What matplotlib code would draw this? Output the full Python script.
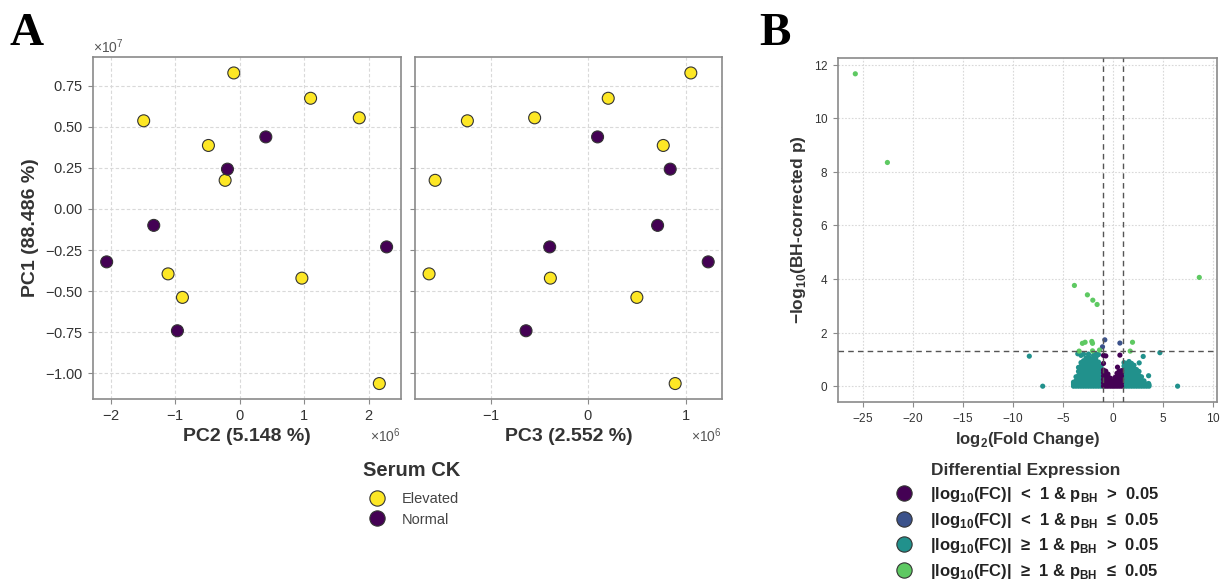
import numpy as np
import matplotlib
matplotlib.use("Agg")
import matplotlib.pyplot as plt
from matplotlib.lines import Line2D

plt.rcParams['font.family'] = ['Liberation Sans', 'DejaVu Sans']
plt.rcParams['mathtext.fontset'] = 'custom'
plt.rcParams['mathtext.rm'] = 'Liberation Sans'
plt.rcParams['mathtext.bf'] = 'Liberation Sans:bold'
plt.rcParams['axes.formatter.use_mathtext'] = True

# ---- PCA data (A) ----
pc1 = [0.827, 0.673, 0.554, 0.536, 0.386, 0.174, -0.395, -0.538, -0.421, -1.062,
       0.438, 0.242, -0.100, -0.322, -0.741, -0.231]          # x1e7
pc2 = [-0.091, 1.100, 1.855, -1.488, -0.484, -0.225, -1.110, -0.887, 0.965, 2.166,
       0.406, -0.189, -1.332, -2.062, -0.965, 2.279]          # x1e6
pc3 = [1.049, 0.204, -0.549, -1.237, 0.767, -1.567, -1.629, 0.497, -0.388, 0.889,
       0.095, 0.838, 0.709, 1.227, -0.637, -0.395]            # x1e6
serum_ck = ['Elevated'] * 10 + ['Normal'] * 6
ck_colors = {'Elevated': '#fde725', 'Normal': '#440154'}

# ---- volcano data (B): (log2 FC, -log10 p_BH) ----
green_pts = [(-25.77, 11.66), (-22.56, 8.35), (8.63, 4.06), (-3.86, 3.76),
             (-2.56, 3.41), (-2.02, 3.21), (-1.59, 3.05), (-3.06, 1.60),
             (-2.79, 1.64), (-2.12, 1.67), (-2.05, 1.60), (1.95, 1.64),
             (-3.39, 1.31), (-2.05, 1.32), (-1.35, 1.35), (1.72, 1.31)]
blue_pts = [(-0.82, 1.73), (-1.05, 1.47), (0.69, 1.61)]
teal_pts = [
    (-8.37, 1.12), (-7.03, 0.0), (6.46, 0.0), (4.69, 1.25), (3.02, 1.11),
    (2.62, 0.87), (3.56, 0.39), (3.56, 0.10), (-3.52, 1.21),
    (-3.95, 0.0), (-3.95, 0.08), (-3.95, 0.15),
    (-3.7, 0.0), (-3.7, 0.1), (-3.7, 0.2), (-3.7, 0.35),
    (-3.45, 0.0), (-3.45, 0.1), (-3.45, 0.22), (-3.45, 0.4), (-3.45, 0.55), (-3.45, 0.7),
    (-3.2, 0.0), (-3.2, 0.12), (-3.2, 0.25), (-3.2, 0.38), (-3.2, 0.5), (-3.2, 0.62),
    (-3.2, 0.75), (-3.2, 0.88), (-3.2, 1.15),
    (-2.95, 0.0), (-2.95, 0.1), (-2.95, 0.22), (-2.95, 0.35), (-2.95, 0.48), (-2.95, 0.6),
    (-2.95, 0.72), (-2.95, 0.85), (-2.95, 0.95), (-2.95, 1.2),
    (-2.7, 0.0), (-2.7, 0.12), (-2.7, 0.24), (-2.7, 0.36), (-2.7, 0.5), (-2.7, 0.62),
    (-2.7, 0.75), (-2.7, 0.9), (-2.7, 1.05),
    (-2.45, 0.0), (-2.45, 0.1), (-2.45, 0.22), (-2.45, 0.34), (-2.45, 0.46), (-2.45, 0.58),
    (-2.45, 0.7), (-2.45, 0.82), (-2.45, 0.96), (-2.45, 1.1), (-2.45, 1.2),
    (-2.2, 0.0), (-2.2, 0.12), (-2.2, 0.25), (-2.2, 0.38), (-2.2, 0.5), (-2.2, 0.64),
    (-2.2, 0.78), (-2.2, 0.9), (-2.2, 1.02),
    (-1.95, 0.0), (-1.95, 0.1), (-1.95, 0.22), (-1.95, 0.35), (-1.95, 0.47), (-1.95, 0.6),
    (-1.95, 0.73), (-1.95, 0.86), (-1.95, 1.0), (-1.95, 1.15),
    (-1.7, 0.0), (-1.7, 0.12), (-1.7, 0.25), (-1.7, 0.38), (-1.7, 0.52), (-1.7, 0.66),
    (-1.7, 0.8), (-1.7, 0.95), (-1.7, 1.08), (-1.7, 1.2),
    (-1.45, 0.0), (-1.45, 0.1), (-1.45, 0.24), (-1.45, 0.37), (-1.45, 0.5), (-1.45, 0.63),
    (-1.45, 0.77), (-1.45, 0.9), (-1.45, 1.18),
    (-1.2, 0.0), (-1.2, 0.12), (-1.2, 0.25), (-1.2, 0.38), (-1.2, 0.5), (-1.2, 0.62),
    (-1.2, 0.75), (-1.05, 0.05), (-1.05, 0.3), (-1.05, 0.55),
    (1.1, 0.0), (1.1, 0.12), (1.1, 0.25), (1.1, 0.38), (1.1, 0.5), (1.1, 0.62), (1.1, 0.75),
    (1.1, 0.88),
    (1.35, 0.0), (1.35, 0.1), (1.35, 0.22), (1.35, 0.35), (1.35, 0.48), (1.35, 0.6),
    (1.35, 0.72), (1.35, 0.85),
    (1.6, 0.0), (1.6, 0.12), (1.6, 0.25), (1.6, 0.38), (1.6, 0.5), (1.6, 0.63), (1.6, 0.78),
    (1.6, 0.92),
    (1.85, 0.0), (1.85, 0.1), (1.85, 0.22), (1.85, 0.35), (1.85, 0.48), (1.85, 0.6),
    (1.85, 0.72), (1.85, 0.85),
    (2.1, 0.0), (2.1, 0.12), (2.1, 0.25), (2.1, 0.38), (2.1, 0.5), (2.1, 0.65), (2.1, 0.78),
    (2.35, 0.0), (2.35, 0.1), (2.35, 0.22), (2.35, 0.35), (2.35, 0.5), (2.35, 0.62),
    (2.6, 0.0), (2.6, 0.12), (2.6, 0.25), (2.6, 0.4), (2.6, 0.55),
    (2.85, 0.0), (2.85, 0.1), (2.85, 0.22), (2.85, 0.35),
    (3.1, 0.0), (3.1, 0.12), (3.1, 0.2),
    (3.35, 0.0), (3.35, 0.08), (3.6, 0.0), (3.6, 0.05)]
purple_pts = [
    (-0.95, 1.15), (-0.72, 1.13), (0.69, 1.16), (0.45, 0.71), (-0.95, 0.85),
    (-0.95, 0.0), (-0.95, 0.12), (-0.95, 0.25), (-0.95, 0.38), (-0.95, 0.5), (-0.95, 0.6),
    (-0.72, 0.0), (-0.72, 0.1), (-0.72, 0.22), (-0.72, 0.35), (-0.72, 0.48), (-0.72, 0.56),
    (-0.5, 0.0), (-0.5, 0.12), (-0.5, 0.24), (-0.5, 0.36), (-0.5, 0.45),
    (-0.27, 0.0), (-0.27, 0.1), (-0.27, 0.2), (-0.27, 0.3),
    (-0.05, 0.0), (-0.05, 0.08), (-0.05, 0.18),
    (0.18, 0.0), (0.18, 0.1), (0.18, 0.22), (0.18, 0.32),
    (0.4, 0.0), (0.4, 0.12), (0.4, 0.25), (0.4, 0.38), (0.4, 0.48),
    (0.62, 0.0), (0.62, 0.1), (0.62, 0.22), (0.62, 0.35), (0.62, 0.48), (0.62, 0.56),
    (0.85, 0.0), (0.85, 0.12), (0.85, 0.25), (0.85, 0.38), (0.85, 0.5), (0.85, 0.58)]

de_labels = [r"|log$_{\mathbf{10}}$(FC)|  <  1 & p$_{\mathbf{BH}}$  >  0.05",
             r"|log$_{\mathbf{10}}$(FC)|  <  1 & p$_{\mathbf{BH}}$  ≤  0.05",
             r"|log$_{\mathbf{10}}$(FC)|  ≥  1 & p$_{\mathbf{BH}}$  >  0.05",
             r"|log$_{\mathbf{10}}$(FC)|  ≥  1 & p$_{\mathbf{BH}}$  ≤  0.05"]
de_colors = ['#440154', '#3b528b', '#21918c', '#5ec962']

fig = plt.figure(figsize=(12.22, 5.83), dpi=100)
W, H = 1222, 583


def px_axes(x0, y0, x1, y1, **kw):
    return fig.add_axes([x0 / W, 1 - y1 / H, (x1 - x0) / W, (y1 - y0) / H], **kw)


def style(ax, grid_ls):
    for s in ax.spines.values():
        s.set_color('#8a8a8a')
        s.set_linewidth(1.2)
    ax.grid(True, color='#d9d9d9', linestyle=grid_ls, linewidth=0.8)
    ax.set_axisbelow(True)
    ax.tick_params(colors='#8a8a8a', labelcolor='#333333', length=3.5, width=0.8)


ax1 = px_axes(93, 57, 401, 399)
ax2 = px_axes(415, 57, 722, 399, sharey=ax1)

pc1_v = np.array(pc1) * 1e7
cols = [ck_colors[c] for c in serum_ck]
ax1.scatter(np.array(pc2) * 1e6, pc1_v, s=74, c=cols, edgecolors='#333333', linewidths=0.8, zorder=3)
ax2.scatter(np.array(pc3) * 1e6, pc1_v, s=74, c=cols, edgecolors='#333333', linewidths=0.8, zorder=3)

ax1.set_xlim(-2.274e6, 2.502e6)
ax2.set_xlim(-1.773e6, 1.368e6)
ax1.set_ylim(-1.156e7, 0.924e7)
ax1.set_yticks(np.array([-1.0, -0.75, -0.5, -0.25, 0.0, 0.25, 0.5, 0.75]) * 1e7)
ax1.set_xticks(np.array([-2, -1, 0, 1, 2]) * 1e6)
ax2.set_xticks(np.array([-1, 0, 1]) * 1e6)
for ax in (ax1, ax2):
    style(ax, (0, (3, 2)))
    ax.tick_params(labelsize=10.5)
    ax.xaxis.get_offset_text().set_fontsize(10)
    ax.xaxis.get_offset_text().set_color('#555555')
ax1.yaxis.get_offset_text().set_fontsize(10)
ax1.yaxis.get_offset_text().set_color('#555555')
ax2.tick_params(labelleft=False)
ax2.yaxis.get_offset_text().set_visible(False)
ax1.set_ylabel('PC1 (88.486 %)', fontsize=14, fontweight='bold', color='#333333')
ax1.set_xlabel('PC2 (5.148 %)', fontsize=14, fontweight='bold', color='#333333')
ax2.set_xlabel('PC3 (2.552 %)', fontsize=14, fontweight='bold', color='#333333')

# legend A: title drawn as separate text for spacing control
fig.text(412 / W, 1 - 470 / H, 'Serum CK', fontsize=14.5, fontweight='bold',
         color='#333333', ha='center', va='center')
ck_handles = [Line2D([], [], marker='o', ls='', markersize=11, markerfacecolor=ck_colors[k],
                     markeredgecolor='#333333', markeredgewidth=0.8) for k in ('Elevated', 'Normal')]
leg1 = fig.legend(ck_handles, ['Elevated', 'Normal'], loc='upper left',
                  bbox_to_anchor=(362 / W, 1 - 492 / H), frameon=False, fontsize=10.5,
                  labelspacing=0.45, handletextpad=0.75, borderpad=0.0, borderaxespad=0.0)
for t in leg1.get_texts():
    t.set_color('#444444')

# ---- volcano ----
ax3 = px_axes(838, 58, 1217, 402)
for pts, col in ((teal_pts, de_colors[2]), (purple_pts, de_colors[0]),
                 (blue_pts, de_colors[1]), (green_pts, de_colors[3])):
    xs, ys = zip(*pts)
    ax3.scatter(xs, ys, s=14, c=col, edgecolors='none', zorder=3)
ax3.axvline(-1, color='#555555', ls=(0, (4, 3)), lw=1.0, zorder=4)
ax3.axvline(1, color='#555555', ls=(0, (4, 3)), lw=1.0, zorder=4)
ax3.axhline(-np.log10(0.05), color='#555555', ls=(0, (4, 3)), lw=1.0, zorder=4)
ax3.set_xlim(-27.5, 10.4)
ax3.set_ylim(-0.59, 12.25)
ax3.set_xticks([-25, -20, -15, -10, -5, 0, 5, 10])
ax3.set_yticks([0, 2, 4, 6, 8, 10, 12])
style(ax3, (0, (1.5, 1.5)))
ax3.tick_params(labelsize=8.5)
ax3.set_xlabel(r'log$_{\mathbf{2}}$(Fold Change)', fontsize=12, fontweight='bold', color='#333333')
ax3.set_ylabel(r'−log$_{\mathbf{10}}$(BH-corrected p)', fontsize=12.5, fontweight='bold', color='#333333')

fig.text(1026 / W, 1 - 470 / H, 'Differential Expression', fontsize=12.5, fontweight='bold',
         color='#333333', ha='center', va='center')
de_handles = [Line2D([], [], marker='o', ls='', markersize=11, markerfacecolor=c,
                     markeredgecolor='#333333', markeredgewidth=0.8) for c in de_colors]
leg2 = fig.legend(de_handles, de_labels, loc='upper left',
                  bbox_to_anchor=(887 / W, 1 - 485 / H), frameon=False,
                  prop={'weight': 'bold', 'size': 12},
                  labelspacing=0.4, handletextpad=0.6, borderpad=0.0, borderaxespad=0.0)
for t in leg2.get_texts():
    t.set_color('#222222')

fig.text(10 / W, 1 - 13 / H, 'A', family='Liberation Serif', fontweight='bold', fontsize=34, va='top')
fig.text(759 / W, 1 - 13 / H, 'B', family='Liberation Serif', fontweight='bold', fontsize=34, va='top')

fig.savefig('out.png', dpi=100)
